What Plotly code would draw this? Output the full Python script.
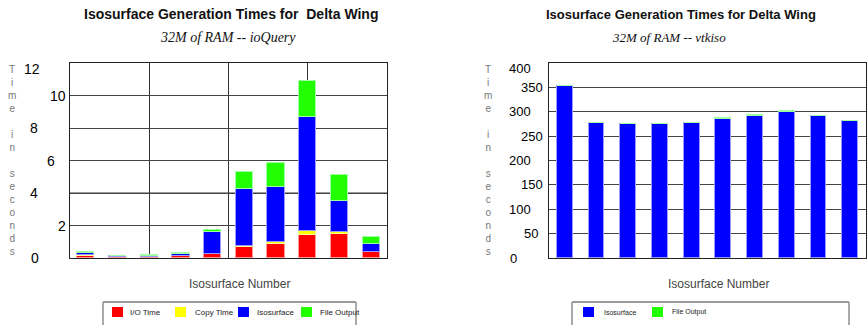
import plotly.graph_objects as go

# ---- data -------------------------------------------------------------
isosurface_no = [1, 2, 3, 4, 5, 6, 7, 8, 9, 10]

# ioQuery run (seconds)
io_time = [0.10, 0.05, 0.06, 0.12, 0.23, 0.65, 0.84, 1.42, 1.45, 0.35]
copy_time = [0.10, 0.00, 0.00, 0.01, 0.02, 0.08, 0.14, 0.27, 0.12, 0.03]
iso_ioquery = [0.13, 0.05, 0.08, 0.10, 1.34, 3.52, 3.37, 6.97, 1.95, 0.50]
file_ioquery = [0.07, 0.01, 0.06, 0.08, 0.16, 1.04, 1.50, 2.24, 1.56, 0.41]

# vtkiso run (seconds)
iso_vtkiso = [352, 276, 275, 275, 277, 285, 291, 299, 291, 281]
file_vtkiso = [1, 0, 0, 0, 0, 2, 2, 3, 0, 0]

left_ticks = [0, 2, 4, 6, 8, 10, 12]
right_ticks = [0, 50, 100, 150, 200, 250, 300, 350, 400]

# ---- styling ----------------------------------------------------------
W, H = 867, 325
RED, YELLOW, BLUE, GREEN = "#ff0000", "#ffff00", "#0000ff", "#22ff00"
EDGE = {RED: "#ff9a9a", YELLOW: "#ffff99", BLUE: "#9a9aff", GREEN: "#a0ffa0"}
SANS = "Liberation Sans, Arial, sans-serif"
SERIF = "Liberation Serif, Times New Roman, serif"

# staggered horizontal placement of the value labels (pixel centres)
left_label_px = {0: 35, 2: 62, 4: 34, 6: 51, 8: 34, 10: 58, 12: 32}
right_label_px = {0: 513, 50: 531, 100: 520, 150: 532, 200: 520,
                  250: 532, 300: 520, 350: 532, 400: 520}

fig = go.Figure()


def add_bar(x, y, name, color, xa, ya, width):
    fig.add_trace(go.Bar(
        x=x, y=y, name=name, xaxis=xa, yaxis=ya, width=width, showlegend=False,
        marker=dict(color=color, line=dict(color=EDGE[color], width=1)),
    ))


left_series = [("I/O Time", io_time, RED), ("Copy Time", copy_time, YELLOW),
               ("Isosurface", iso_ioquery, BLUE), ("File Output", file_ioquery, GREEN)]
right_series = [("Isosurface", iso_vtkiso, BLUE), ("File Output", file_vtkiso, GREEN)]

for name, vals, col in left_series:
    add_bar(isosurface_no, vals, name, col, "x", "y", 0.54)
for name, vals, col in right_series:
    add_bar(isosurface_no, vals, name, col, "x2", "y2", 0.50)

left_dom = [70 / W, 387 / W]
right_dom = [549 / W, 866 / W]
y_dom = [(H - 258) / H, (H - 63) / H]

common_y = dict(showticklabels=False, ticks="", showline=True, linecolor="#222",
                linewidth=1, mirror=True, gridcolor="#444", gridwidth=1,
                zeroline=False, domain=y_dom)
common_x = dict(showticklabels=False, ticks="", showline=True, linecolor="#222",
                linewidth=1, mirror=True, range=[0.5, 10.5], zeroline=False)

fig.update_layout(
    width=W, height=H,
    margin=dict(l=0, r=0, t=0, b=0),
    paper_bgcolor="white", plot_bgcolor="white",
    barmode="stack", bargap=0,
    xaxis=dict(common_x, domain=left_dom, showgrid=True, gridcolor="#333",
               tick0=0.5, dtick=2.5, anchor="y"),
    yaxis=dict(common_y, range=[0, 12], dtick=2, anchor="x"),
    xaxis2=dict(common_x, domain=right_dom, showgrid=False, anchor="y2"),
    yaxis2=dict(common_y, range=[0, 400], dtick=50, anchor="x2"),
    showlegend=False,
)

shapes = []
# lighter, heavier rule at 4 s on the ioQuery panel
shapes.append(dict(type="line", xref="x domain", yref="y", x0=0, x1=1, y0=4, y1=4,
                   line=dict(color="#9a9a9a", width=2), layer="below"))

ann = []
# titles
ann.append(dict(text="<b>Isosurface Generation Times for  Delta Wing</b>",
                x=231 / W, y=1 - 14 / H, font=dict(family=SANS, size=14, color="#111")))
ann.append(dict(text="<i>32M of RAM -- ioQuery</i>",
                x=228 / W, y=1 - 38 / H, font=dict(family=SERIF, size=14, color="#111")))
ann.append(dict(text="<b>Isosurface Generation Times for Delta Wing</b>",
                x=681 / W, y=1 - 14 / H, font=dict(family=SANS, size=13, color="#111")))
ann.append(dict(text="<i>32M of RAM -- vtkiso</i>",
                x=669 / W, y=1 - 38 / H, font=dict(family=SERIF, size=13, color="#111")))
# x-axis titles
for cx in (239, 718):
    ann.append(dict(text="Isosurface Number", x=cx / W, y=1 - 284 / H,
                    font=dict(family=SANS, size=12, color="#444")))
# stacked y-axis titles
vert = "<br>".join(list("Time in seconds"))
for cx in (12, 488):
    ann.append(dict(text=vert, x=cx / W, y=1 - 161 / H,
                    font=dict(family=SANS, size=10, color="#777")))
# value labels
for v in left_ticks:
    ann.append(dict(text=str(v), yref="y", x=left_label_px[v] / W, y=v,
                    yshift=-6 if v == left_ticks[-1] else 0,
                    font=dict(family=SANS, size=14, color="#000")))
for v in right_ticks:
    ann.append(dict(text=str(v), yref="y2", x=right_label_px[v] / W, y=v,
                    yshift=-5 if v == right_ticks[-1] else 0,
                    font=dict(family=SANS, size=13, color="#000")))


# legend boxes (open at the bottom edge of the page)
def legend_box(x0, x1, series, swatch_x, label_x, fsize):
    top = 302
    shapes.append(dict(type="rect", xref="paper", yref="paper",
                       x0=x0 / W, x1=x1 / W, y0=-0.05, y1=1 - top / H,
                       line=dict(color="#555", width=1), fillcolor="white"))
    shapes.append(dict(type="line", xref="paper", yref="paper",
                       x0=x0 / W, x1=x1 / W, y0=1 - top / H, y1=1 - top / H,
                       line=dict(color="#9a9a9a", width=2)))
    for (name, _, col), sx, lx in zip(series, swatch_x, label_x):
        shapes.append(dict(type="rect", xref="paper", yref="paper",
                           x0=sx / W, x1=(sx + 11) / W,
                           y0=1 - 317 / H, y1=1 - 307 / H,
                           line=dict(width=0), fillcolor=col))
        ann.append(dict(text=name, x=lx / W, y=1 - 312 / H, xanchor="left",
                        font=dict(family=SANS, size=fsize, color="#222")))


legend_box(103, 356, left_series, [112, 175, 238, 301], [128, 193, 255, 318], 8)
legend_box(572, 849, right_series, [583, 652], [602, 670], 7)

for a in ann:
    a.setdefault("xref", "paper")
    a.setdefault("yref", "paper")
    a.setdefault("xanchor", "center")
    a.setdefault("yanchor", "middle")
    a["showarrow"] = False
fig.update_layout(annotations=ann, shapes=shapes)

fig.write_html("out.html")
